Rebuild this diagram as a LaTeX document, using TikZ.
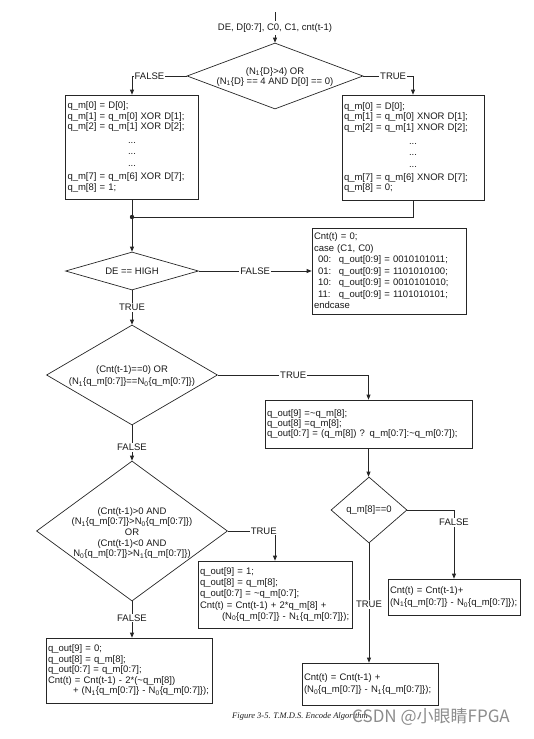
\documentclass[tikz,border=0pt]{standalone}
\usepackage{fontspec}
\setmainfont{Liberation Sans}
\newfontfamily\capfont{Liberation Serif}
\newfontfamily\cjkfont{Noto Sans CJK SC}
\usetikzlibrary{shapes.geometric,arrows.meta}
\newcommand\Nsa{N\textsubscript{1}}
\newcommand\Nsb{N\textsubscript{0}}
\newcommand\dotline{\makebox[\linewidth][c]{...}}
\begin{document}
\begin{tikzpicture}[x=1pt,y=-1pt,
  line width=0.7pt, draw=black!85, text=black!90,
  font=\fontsize{9.5}{10.5}\selectfont,
  box/.style={draw, rectangle, inner xsep=2pt, inner ysep=0pt, align=left},
  dia/.style={draw, diamond, inner sep=0pt},
  dtext/.style={align=center, inner sep=0pt},
  lbl/.style={fill=white, inner sep=1pt},
  arr/.style={-{Triangle[length=5pt,width=4pt]}}]
\useasboundingbox (0,0) rectangle (533,739);

% input
\coordinate (start) at (275,12);
\node[inner sep=2pt] (in) at (275,28) {DE, D[0:7], C0, C1, cnt(t-1)};

% first decision
\node[dia, minimum width=176pt, minimum height=66pt] (d1) at (275,76) {};
\node[dtext, font=\fontsize{9.5}{10}\selectfont] (d1t) at (275,77) {(\Nsa\{D\}>4) OR\\(\Nsa\{D\} == 4 AND D[0] == 0)};

% XOR / XNOR boxes
\node[box, text width=129pt, minimum height=104pt] (b1) at (132,147) {q\_m[0] = D[0];\\
q\_m[1] = q\_m[0] XOR D[1];\\
q\_m[2] = q\_m[1] XOR D[2];\\[3.5pt]
\dotline\\[0.5pt]
\dotline\\[1.5pt]
\dotline\\[2.5pt]
q\_m[7] = q\_m[6] XOR D[7];\\
q\_m[8] = 1;};
\node[box, text width=138pt, minimum height=105pt] (b2) at (413,147.5) {q\_m[0] = D[0];\\
q\_m[1] = q\_m[0] XNOR D[1];\\
q\_m[2] = q\_m[1] XNOR D[2];\\[3.5pt]
\dotline\\[0.5pt]
\dotline\\[1.5pt]
\dotline\\[2.5pt]
q\_m[7] = q\_m[6] XNOR D[7];\\
q\_m[8] = 0;};

\coordinate (j) at (132,217);

% DE == HIGH
\node[dia, minimum width=133pt, minimum height=38pt] (d2) at (132,271) {};
\node[dtext] (d2t) at (132,271) {DE == HIGH};

\node[box, text width=150pt, minimum height=86pt, font=\fontsize{9.5}{11.5}\selectfont] (b3) at (389,271) {Cnt(t) = 0;\\
case (C1, C0)\\
\hspace*{4pt}\makebox[21pt][l]{00:}q\_out[0:9] = 0010101011;\\
\hspace*{4pt}\makebox[21pt][l]{01:}q\_out[0:9] = 1101010100;\\
\hspace*{4pt}\makebox[21pt][l]{10:}q\_out[0:9] = 0010101010;\\
\hspace*{4pt}\makebox[21pt][l]{11:}q\_out[0:9] = 1101010101;\\
endcase};

% third decision
\node[dia, minimum width=171pt, minimum height=100pt] (d3) at (132,375) {};
\node[dtext, font=\fontsize{9.5}{12.5}\selectfont] (d3t) at (132,376) {(Cnt(t-1)==0) OR\\(\Nsa\{q\_m[0:7]\}==\Nsb\{q\_m[0:7]\})};

\node[box, text width=203pt, minimum height=48pt, font=\fontsize{9.5}{10}\selectfont] (b4) at (368.5,424) {q\_out[9] =\textasciitilde q\_m[8];\\
q\_out[8] =q\_m[8];\\
q\_out[0:7] = (q\_m[8]) ? q\_m[0:7]:\textasciitilde q\_m[0:7]);};

% q_m[8]==0
\node[dia, minimum width=76pt, minimum height=66pt] (d4) at (369,510) {};
\node[dtext] (d4t) at (369,510) {q\_m[8]==0};

\node[box, text width=128pt, minimum height=36pt, font=\fontsize{9.5}{12}\selectfont] (b5) at (454,597) {Cnt(t) = Cnt(t-1)+\\
(\Nsa\{q\_m[0:7]\} - \Nsb\{q\_m[0:7]\});};

\node[box, text width=132pt, minimum height=42pt, font=\fontsize{9.5}{12.5}\selectfont] (b6) at (370,684) {Cnt(t) = Cnt(t-1) +\\
(\Nsb\{q\_m[0:7]\} - \Nsa\{q\_m[0:7]\});};

% fifth decision
\node[dia, minimum width=191pt, minimum height=140pt] (d5) at (132,531) {};
\node[dtext, font=\fontsize{9.5}{10.7}\selectfont] (d5t) at (132,533) {(Cnt(t-1)>0 AND\\
(\Nsa\{q\_m[0:7]\}>\Nsb\{q\_m[0:7]\})\\
OR\\
(Cnt(t-1)<0 AND\\
\Nsb\{q\_m[0:7]\}>\Nsa\{q\_m[0:7]\})};

\node[box, text width=150pt, minimum height=67pt, font=\fontsize{9.5}{11.2}\selectfont] (b7) at (275,594.5) {q\_out[9] = 1;\\
q\_out[8] = q\_m[8];\\
q\_out[0:7] = \textasciitilde q\_m[0:7];\\
Cnt(t) = Cnt(t-1) + 2*q\_m[8] +\\
\hspace*{22pt}\makebox[0pt][l]{(\Nsb\{q\_m[0:7]\} - \Nsa\{q\_m[0:7]\});}};

\node[box, text width=162pt, minimum height=65pt, font=\fontsize{9.5}{10.5}\selectfont] (b8) at (129,670.5) {q\_out[9] = 0;\\
q\_out[8] = q\_m[8];\\
q\_out[0:7] = q\_m[0:7];\\
Cnt(t) = Cnt(t-1) - 2*(\textasciitilde q\_m[8])\\
\hspace*{25pt}\makebox[0pt][l]{+ (\Nsa\{q\_m[0:7]\} - \Nsb\{q\_m[0:7]\});}};

% connectors
\draw (start) -- (in.north);
\draw[arr] (in.south) -- (d1.north);
\draw[arr] (d1.west) -| node[lbl, pos=0.34] {FALSE} (b1.north);
\draw[arr] (d1.east) -| node[lbl, pos=0.3] {TRUE} (b2.north);
\draw (b1.south) -- (j);
\draw (b2.south) |- (j);
\fill[black!85] (j) circle (2.2pt);
\draw[arr] (j) -- (d2.north);
\draw[arr] (d2.east) -- node[lbl] {FALSE} (b3.west);
\draw[arr] (d2.south) -- node[lbl] {TRUE} (d3.north);
\draw[arr] (d3.east) -| node[lbl, pos=0.25] {TRUE} (b4.north);
\draw[arr] (d3.south) -- node[lbl, pos=0.62] {FALSE} (d5.north);
\draw[arr] (b4.south) -- (b4.south |- d4.north);
\draw[arr] (d4.east) -| node[lbl, pos=0.59] {FALSE} (b5.north);
\draw[arr] (d4.south) -- node[lbl, pos=0.51] {TRUE} (d4.south |- b6.north);
\draw[arr] (d5.east) -| node[lbl, pos=0.38] {TRUE} (b7.north);
\draw[arr] (d5.south) -- node[lbl, pos=0.46] {FALSE} (d5.south |- b8.north);

% caption and watermark
\node[font=\capfont\itshape\fontsize{8.5}{10}\selectfont] (cap) at (300,716) {Figure 3-5. T.M.D.S. Encode Algorithm};
\node[font=\cjkfont\fontsize{17}{17}\selectfont, text=black!45] (wm) at (431,717) {CSDN @小眼睛FPGA};
\end{tikzpicture}
\end{document}
